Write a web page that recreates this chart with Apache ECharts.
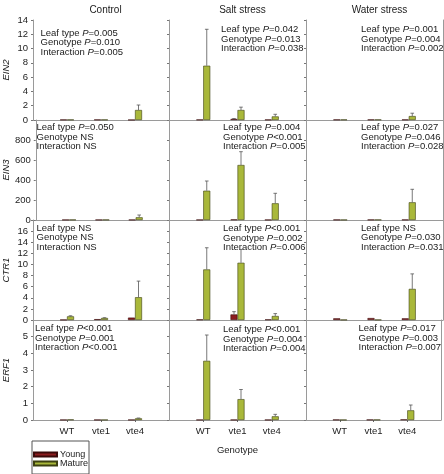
<!DOCTYPE html>
<html><head><meta charset="utf-8">
<script src="https://cdn.jsdelivr.net/npm/echarts@6/dist/echarts.min.js"></script>
<style>html,body{margin:0;padding:0;background:#fff}#c{width:444px;height:474px}</style>
</head><body><div id="c"></div>
<script>
const conditions = ['Control', 'Salt stress', 'Water stress'];
const genotypes = ['WT', 'vte1', 'vte4'];
const genes = ['EIN2', 'EIN3', 'CTR1', 'ERF1'];
const yMax = [14, 1000, 18, 6];
const yStep = [2, 200, 2, 1];

// values: [Control, Salt, Water] x [WT, vte1, vte4]
const ein2Young = [[0.05, 0.05, 0.02], [0.05, 0.15, 0.05], [0.06, 0.06, 0.06]];
const ein2Mature = [[0.05, 0.05, 1.4], [7.6, 1.4, 0.5], [0.06, 0.06, 0.55]];
const ein2YoungErr = [[0, 0, 0], [0, 0.05, 0], [0, 0, 0]];
const ein2MatureErr = [[0, 0, 0.7], [5.1, 0.4, 0.3], [0, 0, 0.4]];

const ein3Young = [[2, 2, 2], [2, 5, 2], [3, 3, 3]];
const ein3Mature = [[3, 3, 27], [293, 550, 167], [2, 3, 177]];
const ein3YoungErr = [[0, 0, 0], [0, 0, 0], [0, 0, 0]];
const ein3MatureErr = [[0, 0, 23], [97, 133, 100], [0, 0, 130]];

const ctr1Young = [[0.05, 0.15, 0.43], [0.1, 1.0, 0.1], [0.3, 0.35, 0.3]];
const ctr1Mature = [[0.66, 0.36, 4.1], [9.1, 10.3, 0.72], [0.05, 0.05, 5.6]];
const ctr1YoungErr = [[0, 0, 0], [0, 0.5, 0], [0, 0, 0]];
const ctr1MatureErr = [[0.1, 0.05, 2.9], [3.9, 2.4, 0.43], [0, 0, 2.7]];

const erf1Young = [[0.01, 0.01, 0.01], [0.01, 0.01, 0.01], [0.02, 0.02, 0.03]];
const erf1Mature = [[0.03, 0.01, 0.1], [3.55, 1.25, 0.22], [0.01, 0.02, 0.58]];
const erf1YoungErr = [[0, 0, 0], [0, 0, 0], [0, 0, 0]];
const erf1MatureErr = [[0, 0, 0.02], [1.55, 0.58, 0.12], [0, 0, 0.32]];

const ein2Stats = [['Leaf type P=0.005', 'Genotype P=0.010', 'Interaction P=0.005'],
                   ['Leaf type P=0.042', 'Genotype P=0.013', 'Interaction P=0.038'],
                   ['Leaf type P=0.001', 'Genotype P=0.004', 'Interaction P=0.002']];
const ein3Stats = [['Leaf type P=0.050', 'Genotype NS', 'Interaction NS'],
                   ['Leaf type P=0.004', 'Genotype P<0.001', 'Interaction P=0.005'],
                   ['Leaf type P=0.027', 'Genotype P=0.046', 'Interaction P=0.028']];
const ctr1Stats = [['Leaf type NS', 'Genotype NS', 'Interaction NS'],
                   ['Leaf type P<0.001', 'Genotype P=0.002', 'Interaction P=0.006'],
                   ['Leaf type NS', 'Genotype P=0.030', 'Interaction P=0.031']];
const erf1Stats = [['Leaf type P<0.001', 'Genotype P=0.001', 'Interaction P<0.001'],
                   ['Leaf type P<0.001', 'Genotype P=0.004', 'Interaction P=0.004'],
                   ['Leaf type P=0.017', 'Genotype P=0.003', 'Interaction P=0.007']];

const youngData = [ein2Young, ein3Young, ctr1Young, erf1Young];
const matureData = [ein2Mature, ein3Mature, ctr1Mature, erf1Mature];
const youngErr = [ein2YoungErr, ein3YoungErr, ctr1YoungErr, erf1YoungErr];
const matureErr = [ein2MatureErr, ein3MatureErr, ctr1MatureErr, erf1MatureErr];
const stats = [ein2Stats, ein3Stats, ctr1Stats, erf1Stats];

const FONT = "'Liberation Sans', Arial, Helvetica, sans-serif";
const YOUNG = '#8c1c1f';
const MATURE = '#a9b83a';
const AXIS = '#9a9a9a';
const barW = 7;
const colLeft = [32, 169, 306], colW = 137;
const rowTop = [20, 120, 220, 320], rowH = 100;
const statDx = [[8.5, 52, 55], [4.5, 54, 55], [4.5, 54, 55], [3, 54, 52.5]];
const statDy = [[8, 4.5, 4.5], [2.5, 2.5, 2.5], [3, 3.5, 3], [3.5, 4.5, 3.5]];

const grids = [], xAxes = [], yAxes = [], series = [], graphics = [];
const extraY = [];

function errRender(params, api) {
  const xi = api.value(0), m = api.value(1), e = api.value(2), side = api.value(3);
  if (!e) return;
  const p0 = api.coord([xi, m]);
  const p1 = api.coord([xi, m + e]);
  const x = p0[0] + side * barW / 2;
  return {
    type: 'group', children: [
      { type: 'line', shape: { x1: x, y1: p0[1], x2: x, y2: p1[1] }, style: { stroke: '#555', lineWidth: 0.8 } },
      { type: 'line', shape: { x1: x - 1.8, y1: p1[1], x2: x + 1.8, y2: p1[1] }, style: { stroke: '#555', lineWidth: 0.8 } }
    ]
  };
}

genes.forEach((g, r) => {
  conditions.forEach((c, ci) => {
    const k = grids.length;
    grids.push({ left: colLeft[ci], top: rowTop[r], width: colW, height: rowH });
    xAxes.push({
      gridIndex: k, type: 'category', data: ['', ...genotypes, ''], boundaryGap: false,
      axisLine: { lineStyle: { color: AXIS, width: 1 } },
      axisTick: { show: r === 3, length: 2, interval: (i) => i >= 1 && i <= 3, lineStyle: { color: '#666' } },
      axisLabel: { show: r === 3, interval: 0, fontSize: 9.5, color: '#222', margin: 6, fontFamily: FONT },
      name: (r === 3 && ci === 1) ? 'Genotype' : '', nameLocation: 'middle', nameGap: 25,
      nameTextStyle: { fontSize: 9.5, color: '#222', fontFamily: FONT }
    });
    yAxes.push({
      gridIndex: k, type: 'value', min: 0, max: yMax[r], interval: yStep[r],
      axisLine: { show: true, lineStyle: { color: AXIS, width: 1 } },
      axisTick: { show: true, length: 2, lineStyle: { color: '#777' } },
      splitLine: { show: false },
      axisLabel: {
        show: ci === 0, fontSize: 9.5, color: '#222', margin: 5, fontFamily: FONT,
        formatter: (v) => (r > 0 && v === yMax[r]) ? '' : String(v)
      },
      name: ci === 0 ? g : '', nameLocation: 'middle', nameGap: 22, nameRotate: 90,
      nameTextStyle: { fontSize: 9.5, fontStyle: 'italic', color: '#222', fontFamily: FONT }
    });
    if (ci === 2) extraY.push(k);
    const yd = youngData[r][ci], md = matureData[r][ci];
    series.push({
      name: 'Young', type: 'bar', xAxisIndex: k, yAxisIndex: k, barWidth: barW, barGap: '0%',
      itemStyle: { color: YOUNG, borderColor: '#3a0a0a', borderWidth: 0.6 },
      data: [null, ...yd, null]
    });
    series.push({
      name: 'Mature', type: 'bar', xAxisIndex: k, yAxisIndex: k, barWidth: barW, barGap: '0%',
      itemStyle: { color: MATURE, borderColor: '#3c4010', borderWidth: 0.6 },
      data: [null, ...md, null]
    });
    const ed = [];
    genotypes.forEach((gt, gi) => {
      ed.push([gi + 1, yd[gi], youngErr[r][ci][gi], -1]);
      ed.push([gi + 1, md[gi], matureErr[r][ci][gi], 1]);
    });
    series.push({
      type: 'custom', xAxisIndex: k, yAxisIndex: k, renderItem: errRender,
      encode: { x: 0, y: 1 }, data: ed, z: 3, silent: true
    });
    const lines = stats[r][ci];
    lines.forEach((ln, li) => {
      const txt = ln.replace(/P([=<])/, '{i|P}$1');
      graphics.push({
        type: 'text', left: colLeft[ci] + statDx[r][ci], top: rowTop[r] + statDy[r][ci] + li * 9.6,
        style: { text: txt, font: '9.5px ' + FONT, fill: '#222',
          rich: { i: { fontStyle: 'italic', fontSize: 9.5, fontFamily: FONT, fill: '#222' } } }
      });
    });
  });
});

extraY.forEach((k) => {
  yAxes.push({
    gridIndex: k, type: 'value', position: 'right', min: 0, max: 1,
    axisLine: { show: true, lineStyle: { color: AXIS } }, axisTick: { show: false },
    axisLabel: { show: false }, splitLine: { show: false }
  });
});

const titles = conditions.map((c, ci) => ({
  text: c, left: colLeft[ci] + colW / 2, top: 0, textAlign: 'center',
  textStyle: { fontSize: 10, fontWeight: 'normal', color: '#222', fontFamily: FONT }
}));

const chart = echarts.init(document.getElementById('c'));
chart.setOption({
  animation: false,
  title: titles,
  grid: grids,
  xAxis: xAxes,
  yAxis: yAxes,
  legend: {
    data: ['Young', 'Mature'], orient: 'vertical', left: 32, top: 441,
    itemWidth: 23, itemHeight: 4, itemGap: 0, icon: 'rect',
    padding: [9, 1, 6, 1], borderColor: '#555', borderWidth: 1,
    textStyle: { fontSize: 9, color: '#222', fontFamily: FONT, padding: [0, 0, 0, -2] }
  },
  graphic: graphics,
  series: series
});
</script>
</body></html>
